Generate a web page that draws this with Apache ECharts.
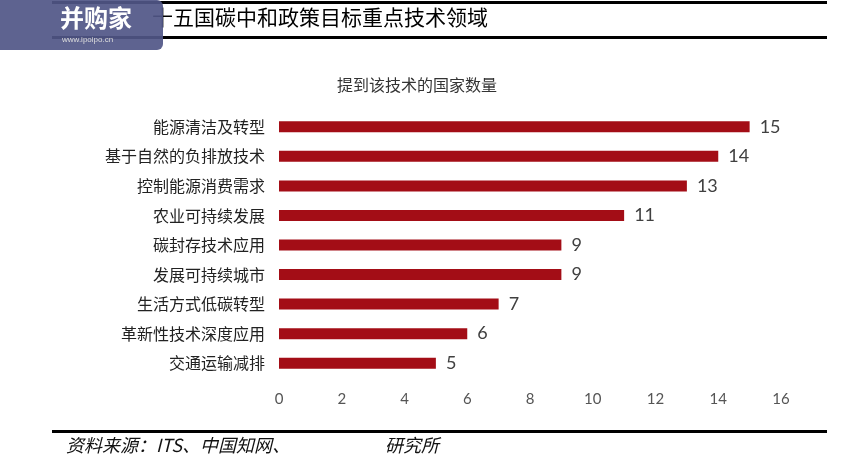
<!DOCTYPE html>
<html><head><meta charset="utf-8">
<script src="https://cdn.jsdelivr.net/npm/echarts@6/dist/echarts.min.js"></script>
<style>html,body{margin:0;padding:0;background:#fff}#c{width:859px;height:471px}</style>
</head><body><div id="c"></div>
<script>
const categories = ['能源清洁及转型','基于自然的负排放技术','控制能源消费需求','农业可持续发展','碳封存技术应用','发展可持续城市','生活方式低碳转型','革新性技术深度应用','交通运输减排'];
const values = [15,14,13,11,9,9,7,6,5];
const xTicks = [0,2,4,6,8,10,12,14,16];
const chart = echarts.init(document.getElementById('c'));
const F = '"Noto Sans CJK SC", sans-serif';
chart.setOption({
  animation:false,
  title:{text:'提到该技术的国家数量',left:412,top:72,textAlign:'center',textStyle:{fontFamily:F,fontSize:16,fontWeight:'normal',color:'#333'}},
  grid:{left:279,right:78,top:112,bottom:93},
  xAxis:{type:'value',min:0,max:16,interval:2,splitLine:{show:false},axisLine:{show:false},axisTick:{show:false},
    axisLabel:{color:'#555',fontSize:15,fontFamily:'Lato, sans-serif',margin:14}},
  yAxis:{type:'category',inverse:true,data:categories,axisLine:{show:false},axisTick:{show:false},
    axisLabel:{color:'#222',fontSize:16,fontFamily:F,margin:14}},
  series:[{type:'bar',data:values,barWidth:11,itemStyle:{color:'#a30d16'},
    label:{show:true,position:'right',distance:10,color:'#404040',fontSize:18,fontFamily:'Lato, sans-serif'}}],
  graphic:[
    {type:'rect',shape:{x:52,y:1,width:775,height:3},style:{fill:'#000'}},
    {type:'rect',shape:{x:52,y:36,width:775,height:3},style:{fill:'#000'}},
    {type:'text',x:152,y:7,style:{text:'十五国碳中和政策目标重点技术领域',font:'21px "Noto Sans CJK SC"',fill:'#000'}},
    {type:'rect',shape:{x:0,y:0,width:163,height:50,r:[0,6,6,0]},style:{fill:'rgba(80,86,135,0.92)'}},
    {type:'text',x:60,y:6,style:{text:'并购家',font:'bold 24px "Noto Sans CJK SC"',fill:'#fff'}},
    {type:'text',x:62,y:36,style:{text:'www.ipoipo.cn',font:'8px sans-serif',fill:'#ddd'}},
    {type:'rect',shape:{x:52,y:430,width:775,height:3},style:{fill:'#000'}},
    {type:'text',x:66,y:436,style:{text:'资料来源：ITS、中国知网、',font:'italic 18px "Noto Sans CJK SC"',fill:'#111'}},
    {type:'text',x:385,y:436,style:{text:'研究所',font:'italic 18px "Noto Sans CJK SC"',fill:'#111'}}
  ]
});
</script></body></html>
